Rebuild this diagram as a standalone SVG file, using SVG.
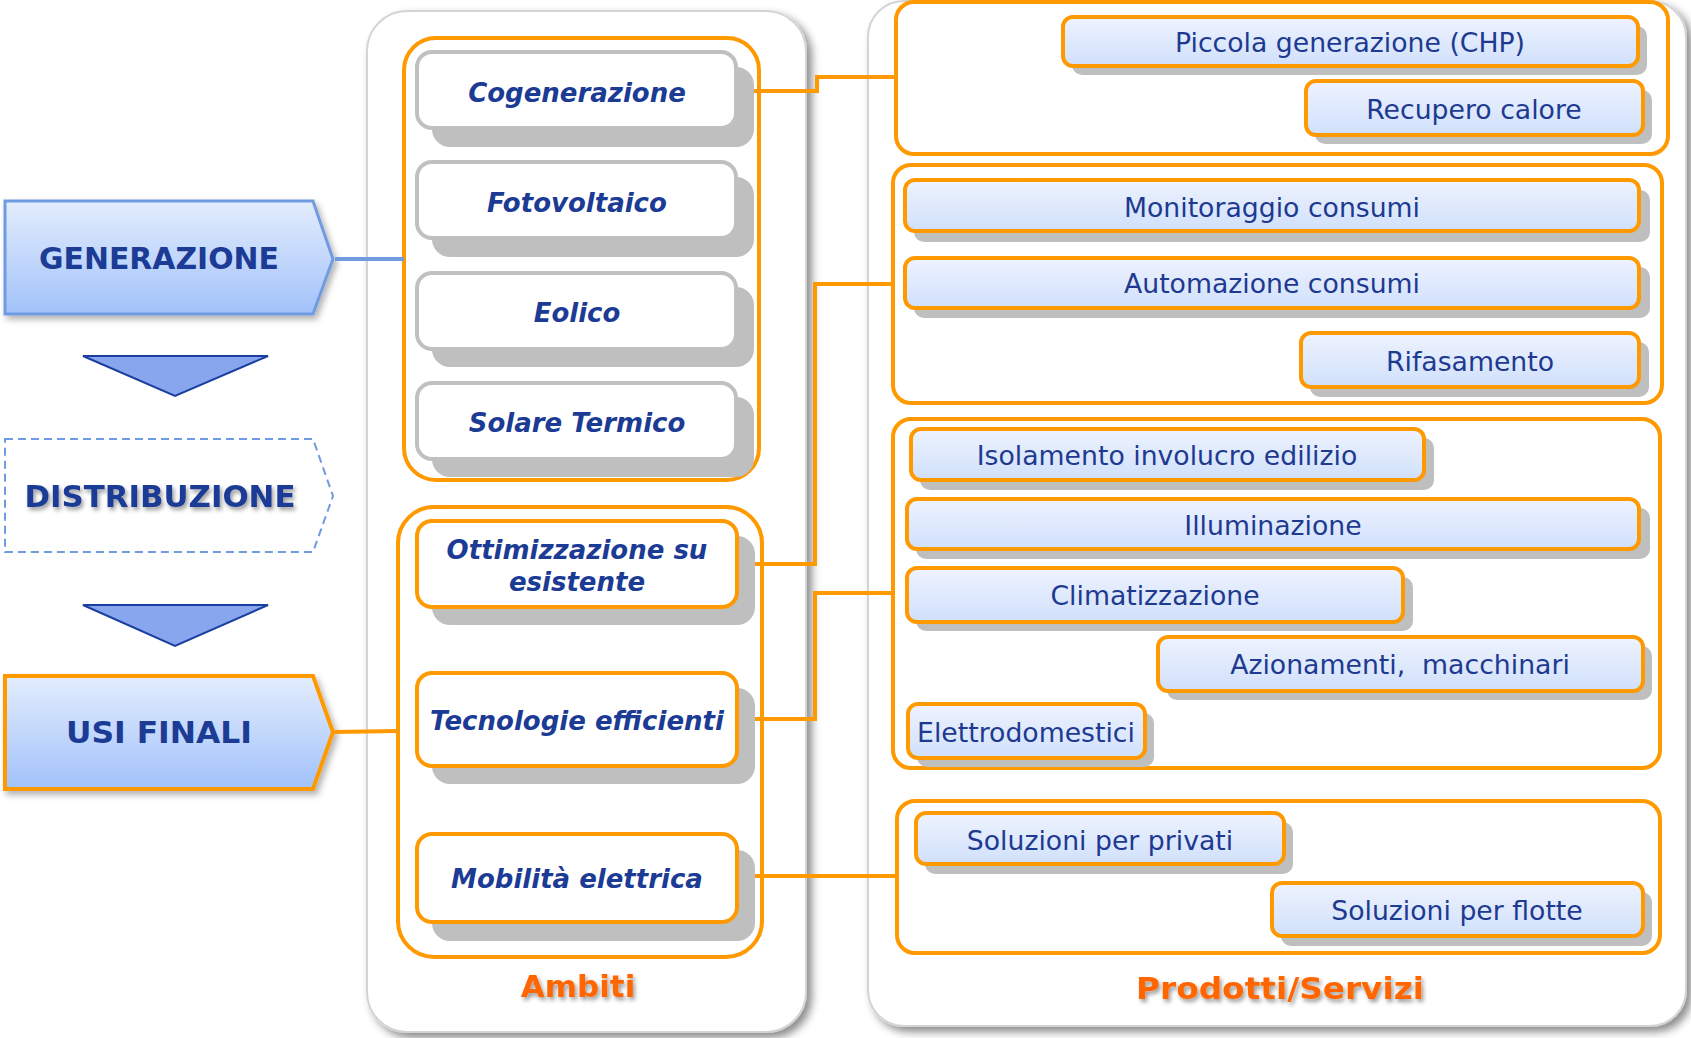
<svg xmlns="http://www.w3.org/2000/svg" width="1691" height="1038" viewBox="0 0 1691 1038">
<defs>
<linearGradient id="gBlue" x1="0" y1="0" x2="0" y2="1">
<stop offset="0" stop-color="#e3edfd"/>
<stop offset="1" stop-color="#a2c2fa"/>
</linearGradient>
<linearGradient id="gBox" x1="0" y1="0" x2="0" y2="1">
<stop offset="0" stop-color="#eef3fe"/>
<stop offset="1" stop-color="#d0e0fb"/>
</linearGradient>
<filter id="panelShadow" x="-5%" y="-5%" width="115%" height="110%">
<feDropShadow dx="5" dy="5" stdDeviation="4" flood-color="#000" flood-opacity="0.45"/>
</filter>
<filter id="shapeShadow" x="-5%" y="-10%" width="115%" height="130%">
<feDropShadow dx="3" dy="4" stdDeviation="3" flood-color="#000" flood-opacity="0.3"/>
</filter>
<filter id="txtShadow" x="-10%" y="-30%" width="120%" height="160%">
<feDropShadow dx="2" dy="3" stdDeviation="2" flood-color="#000" flood-opacity="0.4"/>
</filter>
</defs>
<style>
.panel{fill:#fff;stroke:#d4d4d4;stroke-width:2}
.grp{fill:none;stroke:#ff9900;stroke-width:4}
.sh{fill:#bfbfbf}
.gbox{fill:#fff;stroke:#c0c0c0;stroke-width:4}
.obox{fill:#fff;stroke:#ff9900;stroke-width:4}
.pbox{fill:url(#gBox);stroke:#ff9900;stroke-width:4}
.conn{fill:none;stroke:#ff9900;stroke-width:4}
.lt{font-family:"DejaVu Sans",Verdana,sans-serif;font-weight:bold;font-style:italic;font-size:26px;fill:#1b3b95;text-anchor:middle}
.rt{font-family:"DejaVu Sans",Verdana,sans-serif;font-size:26.7px;fill:#1e3a90;text-anchor:middle}
.big{font-family:"DejaVu Sans",Verdana,sans-serif;font-weight:bold;font-size:31px;fill:#1b3b95;text-anchor:middle}
.lbl{font-family:"DejaVu Sans",Verdana,sans-serif;font-weight:bold;font-size:31px;fill:#ff6600;text-anchor:middle}
.tri{fill:#88a6ee;stroke:#1a3fa0;stroke-width:2}
</style>

<!-- panels -->
<g id="panel-ambiti">
<rect class="panel" x="367" y="11" width="439" height="1021" rx="40" filter="url(#panelShadow)"/>
<text class="lbl" x="578" y="997" filter="url(#txtShadow)">Ambiti</text>
</g>
<g id="panel-prodotti">
<rect class="panel" x="868" y="1" width="818" height="1025" rx="36" filter="url(#panelShadow)"/>
<text class="lbl" x="1280" y="999" textLength="288" lengthAdjust="spacingAndGlyphs" filter="url(#txtShadow)">Prodotti/Servizi</text>
</g>

<!-- left column -->
<g id="node-generazione">
<polygon points="5,201 313,201 333,259 313,314 5,314" fill="url(#gBlue)" stroke="#6f9be0" stroke-width="3" filter="url(#shapeShadow)"/>
<text class="big" x="159" y="269" textLength="240" lengthAdjust="spacingAndGlyphs">GENERAZIONE</text>
</g>
<g id="arrow-1"><polygon class="tri" points="83,356 268,356 175,396"/></g>
<g id="node-distribuzione">
<polygon points="5,439 313,439 333,496 313,552 5,552" fill="#fff" stroke="#6f9be0" stroke-width="2" stroke-dasharray="8,5"/>
<text class="big" x="160" y="507" textLength="271" lengthAdjust="spacingAndGlyphs" filter="url(#txtShadow)">DISTRIBUZIONE</text>
</g>
<g id="arrow-2"><polygon class="tri" points="83,605 268,605 175,646"/></g>
<g id="node-usi-finali">
<polygon points="5,676 313,676 333,732 313,789 5,789" fill="url(#gBlue)" stroke="#ff9900" stroke-width="4" filter="url(#shapeShadow)"/>
<text class="big" x="159" y="743" textLength="186" lengthAdjust="spacingAndGlyphs">USI FINALI</text>
</g>

<!-- groups -->
<g id="group-generazione"><rect class="grp" x="404" y="38" width="355" height="442" rx="32"/></g>
<g id="group-usi"><rect class="grp" x="398" y="507" width="364" height="450" rx="36"/></g>
<g id="group-a"><rect class="grp" x="896" y="2" width="772" height="152" rx="18"/></g>
<g id="group-b"><rect class="grp" x="893" y="165" width="769" height="238" rx="18"/></g>
<g id="group-c"><rect class="grp" x="893" y="419" width="767" height="349" rx="18"/></g>
<g id="group-d"><rect class="grp" x="897" y="801" width="763" height="152" rx="18"/></g>

<!-- connectors -->
<g id="connectors">
<line x1="335" y1="259" x2="404" y2="259" stroke="#6f9be0" stroke-width="4"/>
<line x1="333" y1="732" x2="398" y2="731" stroke="#ff9900" stroke-width="4"/>
<polyline class="conn" points="736,91 817,91 817,77 896,77"/>
<polyline class="conn" points="737,564 815,564 815,284 893,284"/>
<polyline class="conn" points="737,719 815,719 815,593 893,593"/>
<polyline class="conn" points="737,876 897,876"/>
</g>

<!-- ambiti boxes -->
<g id="node-cogenerazione">
<rect class="sh" x="432" y="67" width="322" height="80" rx="18"/>
<rect class="gbox" x="417" y="52" width="319" height="76" rx="15"/>
<text class="lt" x="577" y="102">Cogenerazione</text>
</g>
<g id="node-fotovoltaico">
<rect class="sh" x="432" y="177" width="322" height="80" rx="18"/>
<rect class="gbox" x="417" y="162" width="319" height="76" rx="15"/>
<text class="lt" x="577" y="212">Fotovoltaico</text>
</g>
<g id="node-eolico">
<rect class="sh" x="432" y="287" width="322" height="80" rx="18"/>
<rect class="gbox" x="417" y="273" width="319" height="76" rx="15"/>
<text class="lt" x="577" y="322">Eolico</text>
</g>
<g id="node-solare">
<rect class="sh" x="432" y="397" width="322" height="80" rx="18"/>
<rect class="gbox" x="417" y="383" width="319" height="76" rx="15"/>
<text class="lt" x="577" y="432">Solare Termico</text>
</g>
<g id="node-ottimizzazione">
<rect class="sh" x="432" y="536" width="323" height="89" rx="18"/>
<rect class="obox" x="417" y="521" width="320" height="86" rx="15"/>
<text class="lt" x="577" y="559">Ottimizzazione su</text>
<text class="lt" x="577" y="591">esistente</text>
</g>
<g id="node-tecnologie">
<rect class="sh" x="432" y="688" width="323" height="96" rx="18"/>
<rect class="obox" x="417" y="673" width="320" height="93" rx="15"/>
<text class="lt" x="577" y="730">Tecnologie efficienti</text>
</g>
<g id="node-mobilita">
<rect class="sh" x="432" y="850" width="323" height="91" rx="18"/>
<rect class="obox" x="417" y="834" width="320" height="88" rx="15"/>
<text class="lt" x="577" y="888">Mobilità elettrica</text>
</g>

<!-- prodotti boxes -->
<g id="node-piccola">
<rect class="sh" x="1072" y="26" width="575" height="49" rx="10"/>
<rect class="pbox" x="1063" y="17" width="575" height="49" rx="10"/>
<text class="rt" x="1350" y="52">Piccola generazione (CHP)</text>
</g>
<g id="node-recupero">
<rect class="sh" x="1315" y="90" width="337" height="54" rx="10"/>
<rect class="pbox" x="1306" y="81" width="337" height="54" rx="10"/>
<text class="rt" x="1474" y="119">Recupero calore</text>
</g>
<g id="node-monitoraggio">
<rect class="sh" x="914" y="190" width="736" height="52" rx="10"/>
<rect class="pbox" x="905" y="180" width="734" height="51" rx="10"/>
<text class="rt" x="1272" y="217">Monitoraggio consumi</text>
</g>
<g id="node-automazione">
<rect class="sh" x="914" y="267" width="736" height="51" rx="10"/>
<rect class="pbox" x="905" y="258" width="734" height="50" rx="10"/>
<text class="rt" x="1272" y="293">Automazione consumi</text>
</g>
<g id="node-rifasamento">
<rect class="sh" x="1310" y="342" width="339" height="55" rx="10"/>
<rect class="pbox" x="1301" y="333" width="338" height="54" rx="10"/>
<text class="rt" x="1470" y="371">Rifasamento</text>
</g>
<g id="node-isolamento">
<rect class="sh" x="920" y="438" width="514" height="52" rx="10"/>
<rect class="pbox" x="911" y="429" width="513" height="51" rx="10"/>
<text class="rt" x="1167" y="465">Isolamento involucro edilizio</text>
</g>
<g id="node-illuminazione">
<rect class="sh" x="916" y="508" width="734" height="51" rx="10"/>
<rect class="pbox" x="907" y="499" width="732" height="50" rx="10"/>
<text class="rt" x="1273" y="535">Illuminazione</text>
</g>
<g id="node-climatizzazione">
<rect class="sh" x="916" y="577" width="497" height="54" rx="10"/>
<rect class="pbox" x="907" y="568" width="496" height="54" rx="10"/>
<text class="rt" x="1155" y="605">Climatizzazione</text>
</g>
<g id="node-azionamenti">
<rect class="sh" x="1167" y="646" width="485" height="54" rx="10"/>
<rect class="pbox" x="1158" y="637" width="485" height="54" rx="10"/>
<text class="rt" x="1400" y="674" xml:space="preserve">Azionamenti,  macchinari</text>
</g>
<g id="node-elettrodomestici">
<rect class="sh" x="917" y="713" width="237" height="54" rx="10"/>
<rect class="pbox" x="908" y="704" width="237" height="54" rx="10"/>
<text class="rt" x="1026" y="742">Elettrodomestici</text>
</g>
<g id="node-privati">
<rect class="sh" x="925" y="822" width="368" height="52" rx="10"/>
<rect class="pbox" x="916" y="813" width="368" height="51" rx="10"/>
<text class="rt" x="1100" y="850">Soluzioni per privati</text>
</g>
<g id="node-flotte">
<rect class="sh" x="1281" y="892" width="371" height="54" rx="10"/>
<rect class="pbox" x="1272" y="883" width="371" height="53" rx="10"/>
<text class="rt" x="1457" y="920">Soluzioni per flotte</text>
</g>
</svg>
